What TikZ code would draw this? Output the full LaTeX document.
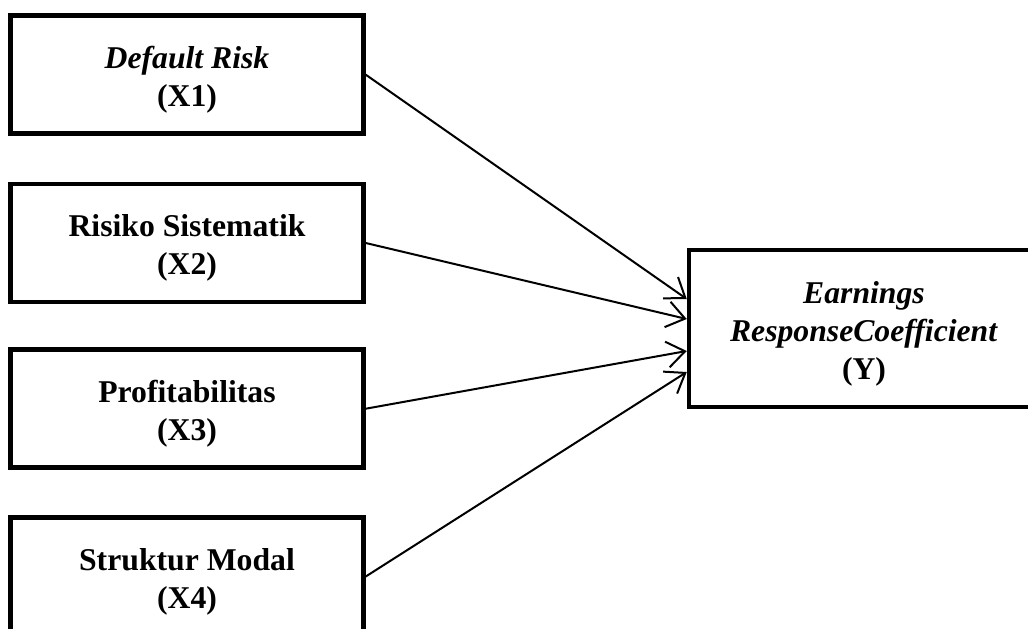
\documentclass[tikz,border=0pt]{standalone}
\usepackage{fontspec}
\setmainfont{Liberation Serif}
\usetikzlibrary{arrows.meta,positioning}
\newcommand{\topgap}{\rule{0pt}{32pt}}

\begin{document}
\begin{tikzpicture}[x=1pt,y=1pt,>={Straight Barb[length=18pt,width=26pt]}]
  \tikzstyle{varbox}=[draw, line width=4.5pt, inner sep=0pt, align=center,
              minimum width=353pt, minimum height=118pt,
              font=\fontsize{31.7}{38}\selectfont\bfseries]
  \tikzstyle{ybox}=[varbox, minimum width=350pt, minimum height=157pt]
  \tikzstyle{varr}=[->, line width=2pt]
  \useasboundingbox (0,0) rectangle (1028,-629);
  % X1
  \node[varbox] (x1) at (187,-74.7) {\topgap\textit{Default Risk}\\(X1)};
  % X2
  \node[varbox] (x2) at (187,-243) {\topgap Risiko Sistematik\\(X2)};
  % X3
  \node[varbox] (x3) at (187,-408.7) {\topgap Profitabilitas\\(X3)};
  % X4
  \node[varbox] (x4) at (187,-576.5) {\topgap Struktur Modal\\(X4)};
  % Y
  \node[ybox] (y) at (864,-328.5) {\topgap\textit{Earnings}\\\textit{ResponseCoefficient}\\(Y)};
  \draw[varr] (x1.east) -- ([yshift=29.5pt]y.west);
  \draw[varr] (x2.east) -- ([yshift=9.5pt]y.west);
  \draw[varr] (x3.east) -- ([yshift=-22.5pt]y.west);
  \draw[varr] (x4.east) -- ([yshift=-43.5pt]y.west);
\end{tikzpicture}
\end{document}
